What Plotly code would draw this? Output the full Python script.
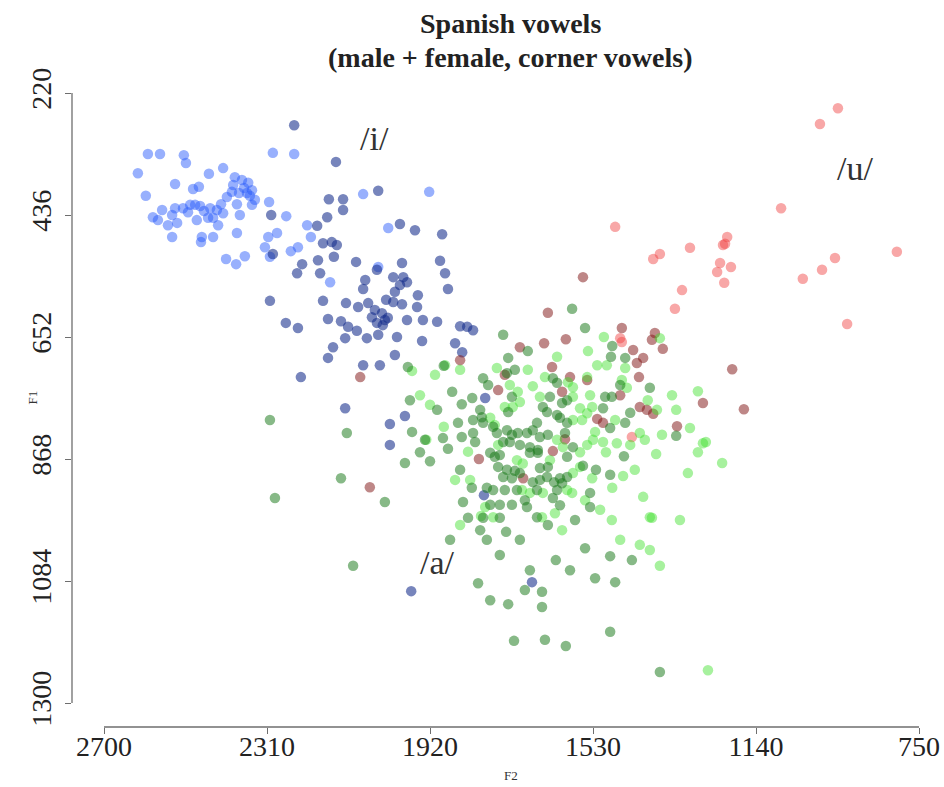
import plotly.graph_objects as go

# Tick positions (Hz)
f2_ticks = [2700, 2310, 1920, 1530, 1140, 750]
f1_ticks = [220, 436, 652, 868, 1084, 1300]

# /i/ female
i_fem_f2 = [2595, 2566, 2509, 2504, 2619, 2530, 2600, 2487, 2473, 2449, 2415, 2387, 2370, 2355, 2346,
            2358, 2377, 2391, 2406, 2339, 2346, 2382, 2375, 2482, 2494, 2470, 2446, 2430, 2415, 2439,
            2427, 2451, 2478, 2530, 2537, 2525, 2561, 2583, 2571, 2547, 2537, 2466, 2468, 2439, 2382,
            2408, 2384, 2363, 2305, 2296, 2245, 2264, 2307, 2286, 2315, 2253, 2236, 2214, 2205, 2080,
            2020, 1922, 2159, 2044, 2303, 2365, 2351, 2394, 2511, 2499, 2461, 2420]
i_fem_f1 = [328, 328, 330, 344, 362, 381, 402, 390, 386, 363, 353, 369, 374, 379, 392,
            397, 397, 383, 404, 409, 418, 417, 436, 418, 418, 420, 424, 427, 433, 441,
            454, 441, 445, 424, 436, 450, 427, 440, 445, 454, 475, 475, 484, 475, 468,
            514, 523, 509, 413, 326, 328, 438, 475, 468, 493, 500, 493, 454, 475, 399,
            459, 395, 555, 528, 510, 388, 402, 395, 424, 431, 429, 417]

# /i/ male
i_male_f2 = [2245, 2145, 2044, 2162, 2128, 2128, 2166, 2190, 2300, 2296, 2176, 2155, 2143, 2150, 2188,
             2183, 2226, 2238, 2303, 2265, 2236, 2176, 2164, 2133, 2121, 2097, 2075, 2080, 2047, 1992,
             1956, 1891, 1987, 2008, 1984, 1975, 1992, 2004, 2008, 1987, 1949, 1951, 1896, 1884, 1877,
             2092, 2068, 2052, 2035, 2028, 2033, 2059, 2047, 1975, 1937, 1903, 1999, 1939, 2044, 2071,
             2095, 2116, 2123, 2152, 1848, 1831, 1817, 1860, 1843, 2164, 2004, 2229, 2123, 2016, 2016,
             1980, 2080, 2040, 1791, 1676, 1965, 1788, 2021, 2025]
i_male_f1 = [277, 342, 393, 408, 408, 427, 440, 455, 436, 505, 486, 484, 489, 510, 516,
             539, 523, 539, 588, 627, 636, 588, 620, 624, 592, 519, 551, 567, 533, 452,
             463, 470, 521, 546, 546, 555, 560, 572, 590, 594, 578, 599, 517, 539, 567,
             599, 592, 604, 610, 622, 631, 617, 627, 622, 622, 625, 652, 659, 648, 654,
             641, 634, 654, 670, 633, 634, 640, 663, 679, 689, 684, 723, 778, 806, 843,
             792, 702, 702, 932, 1086, 1102, 760, 618, 586]

# /u/ female
u_fem_f2 = [944, 987, 1080, 1477, 803, 951, 982, 1028, 922, 1298, 1386, 1370, 1209, 1214, 1219,
            1226, 1233, 1200, 1216, 1317, 1334, 1465, 1461, 1437]
u_fem_f1 = [247, 275, 424, 457, 501, 512, 533, 549, 629, 494, 514, 505, 475, 487, 489,
            521, 537, 528, 556, 569, 602, 654, 661, 829]

# /u/ male
u_male_f2 = [1554, 1638, 1461, 1595, 1647, 1705, 1382, 1389, 1363, 1434, 1410, 1425, 1420, 1197, 1848,
             1741, 1628, 1585, 1544, 1604, 1757, 1465, 1418, 1401, 1386, 1267, 1169, 1520, 1506, 1329,
             1597, 1626, 1803, 1697, 2087, 2064]
u_male_f1 = [546, 609, 636, 656, 663, 670, 645, 657, 673, 675, 689, 698, 723, 709, 693,
             719, 705, 723, 728, 749, 746, 755, 776, 781, 788, 769, 780, 797, 804, 810,
             833, 854, 868, 902, 723, 918]

# /a/ female
a_fem_f2 = [1504, 1542, 1616, 1497, 1453, 1370, 1760, 1686, 1848, 1729, 1674, 1645, 1544, 1590, 1578,
            1537, 1710, 1461, 1449, 1399, 1377, 1279, 1887, 1705, 1657, 1578, 1561, 1544, 1532, 1578,
            1556, 1525, 1530, 1506, 1499, 1473, 1418, 1406, 1365, 1267, 1279, 1221, 1303, 1379, 1430,
            1458, 1561, 1544, 1532, 1484, 1410, 1394, 1561, 1578, 1592, 1580, 1633, 1650, 1700, 1681,
            1621, 1652, 1765, 1776, 1741, 1722, 1757, 1829, 1860, 1788, 1769, 1712, 1698, 1616, 1602,
            1255, 1394, 1370, 1322, 1389, 1260, 1963, 1944, 1884, 1824, 1341, 1298, 1331, 1485, 1465,
            1513, 1549, 1418, 1920, 1908, 1929, 1798, 1848, 1604, 1441, 1477, 1520]
a_fem_f1 = [652, 677, 687, 702, 707, 654, 707, 710, 710, 737, 739, 723, 723, 732, 741,
            755, 749, 728, 742, 764, 781, 748, 811, 767, 758, 758, 778, 787, 776, 799,
            799, 820, 834, 838, 856, 840, 822, 834, 825, 840, 856, 875, 893, 859, 887,
            898, 856, 843, 902, 919, 935, 971, 882, 893, 923, 928, 870, 928, 923, 928,
            964, 971, 808, 795, 776, 776, 843, 855, 905, 953, 971, 870, 876, 834, 847,
            1242, 1029, 1057, 976, 972, 838, 712, 755, 702, 905, 755, 813, 781, 976, 1011,
            958, 941, 1020, 772, 719, 834, 969, 985, 994, 843, 799, 702]

# /a/ male
a_male_f2 = [1580, 1549, 1745, 1733, 1686, 1487, 1453, 1484, 1717, 1736, 1793, 1781, 1626, 1616, 1887,
             1394, 1465, 1501, 1485, 1633, 1724, 1844, 1800, 1796, 1650, 1640, 1604, 1592, 1506, 1616,
             1609, 1733, 1853, 1817, 1793, 1664, 1592, 1597, 1489, 1453, 1844, 1817, 1812, 1769, 1760,
             1736, 1724, 1710, 1688, 1674, 1657, 1638, 1745, 1729, 1705, 1681, 1662, 1776, 1765, 1753,
             1681, 1662, 1578, 1592, 1456, 1331, 1757, 1736, 1717, 1745, 1724, 1705, 1657, 1638, 1640,
             1657, 1623, 1609, 1592, 1674, 1664, 1820, 1784, 1769, 1741, 1712, 1616, 1604, 1626, 1537,
             1537, 1753, 1724, 1693, 1688, 1776, 1829, 1793, 1753, 1664, 2303, 2291, 2104, 2119, 2133,
             2028, 1980, 1920, 1968, 1963, 1944, 1889, 1877, 1848, 1805, 1776, 1733, 1652, 1652, 1719,
             1645, 1595, 1489, 1370, 1525, 1489, 1477, 1585, 1681, 1693, 1784, 1872, 1753, 1705, 1619,
             1549, 1738, 1800, 1437, 1973, 1903, 1867, 1819, 1932, 1441, 1554, 1523, 1489, 1573, 1609,
             1638, 1841]
a_male_f1 = [602, 636, 648, 689, 677, 687, 689, 668, 710, 716, 725, 737, 725, 733, 703,
             742, 737, 758, 758, 758, 758, 771, 781, 794, 776, 785, 769, 764, 778, 790,
             795, 785, 804, 799, 804, 804, 804, 822, 813, 804, 829, 822, 838, 811, 822,
             817, 825, 822, 822, 817, 829, 825, 838, 838, 843, 847, 852, 857, 864, 861,
             857, 857, 847, 864, 863, 827, 882, 887, 889, 900, 902, 893, 884, 882, 900,
             905, 909, 902, 900, 909, 923, 919, 919, 923, 923, 923, 923, 911, 937, 928,
             953, 949, 949, 941, 953, 949, 972, 972, 972, 971, 799, 937, 1057, 822, 902,
             944, 875, 872, 764, 820, 856, 831, 850, 887, 1088, 1118, 1125, 1103, 1130, 1190,
             1188, 1199, 1174, 1245, 1079, 1040, 1086, 1065, 1065, 1100, 1011, 1011, 1038, 1011, 1047,
             1026, 997, 994, 1047, 705, 781, 749, 760, 834, 786, 880, 887, 896, 976, 950,
             985, 944]

groups = [
    ("i female", i_fem_f2, i_fem_f1, "rgba(40,90,250,0.48)"),
    ("i male", i_male_f2, i_male_f1, "rgba(20,45,140,0.58)"),
    ("u female", u_fem_f2, u_fem_f1, "rgba(240,60,60,0.45)"),
    ("u male", u_male_f2, u_male_f1, "rgba(130,25,25,0.52)"),
    ("a female", a_fem_f2, a_fem_f1, "rgba(60,225,40,0.45)"),
    ("a male", a_male_f2, a_male_f1, "rgba(25,120,25,0.52)"),
]

vowel_labels = ["/i/", "/u/", "/a/"]
label_f2 = [2052, 903, 1903]
label_f1 = [300, 353, 1052]

serif = "Liberation Serif"

fig = go.Figure()
for name, xs, ys, col in groups:
    fig.add_trace(go.Scatter(
        x=xs, y=ys, mode="markers", name=name,
        marker=dict(size=10.5, color=col, line=dict(width=0)),
        hoverinfo="x+y",
    ))

for txt, x, y in zip(vowel_labels, label_f2, label_f1):
    fig.add_annotation(x=x, y=y, text=txt, showarrow=False,
                       font=dict(family=serif, size=34, color="#333333"))

# Title lines, centred over the plotting region
fig.add_annotation(xref="paper", yref="paper", x=0.5034, y=1, yshift=46, yanchor="middle",
                   text="<b>Spanish vowels</b>", showarrow=False,
                   font=dict(family=serif, size=28, color="#222222"))
fig.add_annotation(xref="paper", yref="paper", x=0.5034, y=1, yshift=12, yanchor="middle",
                   text="<b>(male + female, corner vowels)</b>", showarrow=False,
                   font=dict(family=serif, size=28, color="#222222"))

# Axis titles
fig.add_annotation(xref="paper", yref="paper", x=0.5034, y=0, yshift=-48, yanchor="middle",
                   text="F2", showarrow=False, font=dict(family=serif, size=13, color="#333333"))
fig.add_annotation(xref="paper", yref="paper", x=0, xshift=-50, y=0.5, yanchor="middle",
                   text="F1", textangle=-90, showarrow=False,
                   font=dict(family=serif, size=13, color="#333333"))

# Axis lines spanning only the tick range
fig.add_shape(type="line", xref="x", yref="paper", x0=max(f2_ticks), x1=min(f2_ticks), y0=0, y1=0,
              line=dict(color="#6e6e6e", width=1.3))
fig.add_shape(type="line", xref="paper", yref="y", x0=0, x1=0, y0=min(f1_ticks), y1=max(f1_ticks),
              line=dict(color="#6e6e6e", width=1.3))

fig.update_xaxes(range=[2776.6, 690.2], tickvals=f2_ticks, ticktext=[str(v) for v in f2_ticks],
                 ticks="outside", ticklen=6, tickcolor="#6e6e6e", tickwidth=1.3,
                 ticklabelstandoff=-12,
                 showgrid=False, zeroline=False, showline=False,
                 tickfont=dict(family=serif, size=28, color="#222222"))
fig.update_yaxes(range=[1342.5, 177.5], tickvals=f1_ticks, ticktext=[str(v) for v in f1_ticks],
                 ticks="outside", ticklen=6, tickcolor="#6e6e6e", tickwidth=1.3, tickangle=-90,
                 ticklabelstandoff=3,
                 showgrid=False, zeroline=False, showline=False,
                 tickfont=dict(family=serif, size=28, color="#222222"))

fig.update_layout(
    width=944, height=787,
    margin=dict(l=72, r=0, t=69, b=60),
    paper_bgcolor="white", plot_bgcolor="white",
    showlegend=False,
)

fig.write_html("out.html")
